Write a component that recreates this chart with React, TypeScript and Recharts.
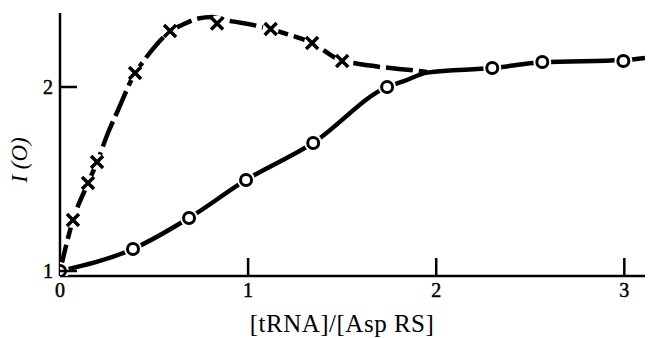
import { ComposedChart, Line, Scatter, XAxis, YAxis } from "recharts";

// × markers
const crossRatio = [0.069, 0.149, 0.197, 0.399, 0.585, 0.835, 1.12, 1.34, 1.5];
const crossIntensity = [1.277, 1.478, 1.592, 2.076, 2.304, 2.345, 2.315, 2.239, 2.141];

// fitted curve drawn through the × data (dashed), joins the ○ curve near 1.95
const crossCurveRatio = [
  0, 0.069, 0.149, 0.197, 0.255, 0.309, 0.399, 0.436, 0.521, 0.585, 0.649, 0.734, 0.809, 0.888,
  1.048, 1.17, 1.287, 1.34, 1.5, 1.559, 1.702, 1.862, 1.952,
];
const crossCurveIntensity = [
  1, 1.277, 1.478, 1.592, 1.75, 1.875, 2.076, 2.13, 2.239, 2.304, 2.337, 2.372, 2.38, 2.362,
  2.332, 2.299, 2.261, 2.239, 2.141, 2.13, 2.109, 2.092, 2.082,
];

// ○ markers
const circleRatio = [0, 0.388, 0.686, 0.989, 1.346, 1.739, 2.298, 2.564, 2.995];
const circleIntensity = [1, 1.12, 1.288, 1.495, 1.696, 2.0, 2.103, 2.136, 2.141];

// fitted curve through the ○ data (solid)
const circleCurveRatio = [0, 0.388, 0.686, 0.989, 1.346, 1.739, 1.824, 1.952, 2.298, 2.564, 2.995, 3.11];
const circleCurveIntensity = [1, 1.12, 1.288, 1.495, 1.696, 2.0, 2.03, 2.078, 2.103, 2.134, 2.146, 2.158];

const xTicks = [0, 1, 2, 3];
const yTicks = [1, 2];

const zip = (xs: number[], ys: number[]) => xs.map((x, i) => ({ x, y: ys[i] }));
const crossCurve = zip(crossCurveRatio, crossCurveIntensity);
const circleCurve = zip(circleCurveRatio, circleCurveIntensity);
const crossMarks = zip(crossRatio, crossIntensity);
const circleMarks = zip(circleRatio, circleIntensity);

const FONT = '"Liberation Serif", "DejaVu Serif", serif';
const serif = { fontFamily: FONT };

const CrossShape = (props: any) => {
  const { cx, cy } = props;
  const s = 6;
  return (
    <g>
      <circle cx={cx} cy={cy} r={8} fill="#fff" />
      <path
        d={`M${cx - s},${cy - s}L${cx + s},${cy + s}M${cx - s},${cy + s}L${cx + s},${cy - s}`}
        stroke="#000"
        strokeWidth={3.5}
      />
    </g>
  );
};

const CircleShape = (props: any) => {
  const { cx, cy } = props;
  return (
    <g>
      <circle cx={cx} cy={cy} r={9} fill="#fff" />
      <circle cx={cx} cy={cy} r={5.5} fill="#fff" stroke="#000" strokeWidth={3} />
    </g>
  );
};

const XTick = (props: any) => {
  const { x, y, payload } = props;
  return (
    <g>
      {payload.value !== 0 && <line x1={x} y1={y} x2={x} y2={y - 18} stroke="#000" strokeWidth={2.5} />}
      <text x={x} y={y + 21} textAnchor="middle" style={serif} fontSize={20} fill="#000" stroke="#000" strokeWidth={0.5}>
        {payload.value}
      </text>
    </g>
  );
};

const YTick = (props: any) => {
  const { x, y, payload } = props;
  return (
    <g>
      <line x1={x} y1={y} x2={x + 17} y2={y} stroke="#000" strokeWidth={2.5} />
      <text x={x - 7} y={y + 7} textAnchor="end" style={serif} fontSize={20} fill="#000" stroke="#000" strokeWidth={0.5}>
        {payload.value}
      </text>
    </g>
  );
};

export default function App() {
  return (
    <div style={{ position: "absolute", left: 0, top: 0, width: 649, height: 338, background: "#fff", ...serif }}>
      <ComposedChart width={649} height={338} margin={{ top: 13, right: 4, left: 0, bottom: 0 }}>
        <XAxis
          type="number"
          dataKey="x"
          domain={[0, 3.11]}
          ticks={xTicks}
          allowDataOverflow
          height={62}
          tickSize={0}
          tickMargin={0}
          tickLine={false}
          tick={<XTick />}
          axisLine={{ stroke: "#000", strokeWidth: 2.5 }}
        />
        <YAxis
          type="number"
          dataKey="y"
          domain={[0.973, 2.402]}
          ticks={yTicks}
          allowDataOverflow
          width={60}
          tickSize={0}
          tickMargin={0}
          tickLine={false}
          tick={<YTick />}
          axisLine={{ stroke: "#000", strokeWidth: 2.5 }}
        />
        <Line
          data={crossCurve}
          dataKey="y"
          type="monotone"
          stroke="#000"
          strokeWidth={4.5}
          strokeDasharray="27 6"
          dot={false}
          activeDot={false}
          isAnimationActive={false}
        />
        <Line
          data={circleCurve}
          dataKey="y"
          type="monotone"
          stroke="#000"
          strokeWidth={4.5}
          dot={false}
          activeDot={false}
          isAnimationActive={false}
        />
        <Scatter data={crossMarks} dataKey="y" shape={<CrossShape />} isAnimationActive={false} />
        <Scatter data={circleMarks} dataKey="y" shape={<CircleShape />} isAnimationActive={false} />
      </ComposedChart>
      <svg width={649} height={338} style={{ position: "absolute", left: 0, top: 0, pointerEvents: "none" }}>
        <text
          x={0}
          y={0}
          transform="translate(27,160) rotate(-90)"
          textAnchor="middle"
          style={serif}
          fontStyle="italic"
          fontSize={23}
          fill="#000"
        >
          I (O)
        </text>
        <text x={342} y={332} textAnchor="middle" style={serif} fontSize={25} letterSpacing={0.5} fill="#000">
          [tRNA]/[Asp RS]
        </text>
      </svg>
    </div>
  );
}
